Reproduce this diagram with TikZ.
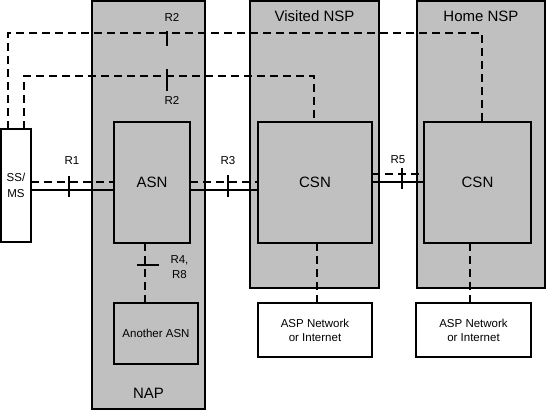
\documentclass[tikz,border=0pt]{standalone}
\usepackage{fontspec}
\setmainfont{Liberation Sans}
\definecolor{bg}{RGB}{192,192,192}
\begin{document}
\begin{tikzpicture}[x=1pt,y=-1pt,
  region/.style={draw, fill=bg, line width=1.6pt, inner sep=0pt, outer sep=0pt},
  whitebox/.style={draw, fill=white, line width=1.6pt, inner sep=0pt, outer sep=0pt, align=center, font=\fontsize{11.5}{14}\selectfont},
  bigtxt/.style={font=\fontsize{15}{18}\selectfont, inner sep=0pt},
  smalltxt/.style={font=\fontsize{11.5}{15}\selectfont, inner sep=0pt, align=center},
  conn/.style={line width=1.6pt},
  dline/.style={line width=1.6pt, dash pattern=on 8pt off 5pt},
  tick/.style={line width=1.6pt}
]
\useasboundingbox (0,0) rectangle (547,411);
% regions
\node[region, minimum width=113pt, minimum height=408pt] (nap) at (148.5,205) {};
\node[region, minimum width=129pt, minimum height=287pt] (vnsp) at (314.5,144.5) {};
\node[region, minimum width=128pt, minimum height=287pt] (hnsp) at (481,144.5) {};
\node[bigtxt] (vlab) at (314.5,16) {Visited NSP};
\node[bigtxt] (hlab) at (481,16) {Home NSP};
\node[bigtxt] (naplab) at (148.5,393) {NAP};
% helper coordinates
\coordinate (o1) at (8,33);
\coordinate (o2) at (482,33);
\coordinate (i1) at (24,76);
\coordinate (i2) at (314,76);
\coordinate (hA) at (0,190);
\coordinate (hB) at (0,182);
\coordinate (hC) at (0,174);
\coordinate (v1) at (145,0);
\coordinate (v2) at (317,0);
\coordinate (v3) at (470,0);
% inner boxes
\node[region, minimum width=76pt, minimum height=121pt, bigtxt] (asn) at (152,182.5) {ASN};
\node[region, minimum width=114pt, minimum height=121pt, bigtxt] (csnv) at (315,182.5) {CSN};
\node[region, minimum width=107pt, minimum height=121pt, bigtxt] (csnh) at (477.5,182.5) {CSN};
\node[region, minimum width=84pt, minimum height=61pt, font=\fontsize{11.5}{14}\selectfont] (asn2) at (156,333.5) {Another ASN};
\node[whitebox, minimum width=114pt, minimum height=54pt] (asp1) at (315,330) {ASP Network\\or Internet};
\node[whitebox, minimum width=115pt, minimum height=54pt] (asp2) at (473.5,330) {ASP Network\\or Internet};
\node[whitebox, minimum width=30pt, minimum height=113pt, font=\fontsize{11.5}{16}\selectfont] (ss) at (16,185.5) {SS/\\MS};
% top dashed R2 paths
\draw[dline] (ss.north -| o1) -- (o1) -- (o2) -- (csnh.north -| o2);
\draw[dline] (ss.north -| i1) -- (i1) -- (i2) -- (csnv.north -| i2);
% R1
\draw[conn] (ss.east |- hA) -- (asn.west |- hA);
\draw[dline] (ss.east |- hB) -- (asn.west |- hB);
% R3
\draw[conn] (asn.east |- hA) -- (csnv.west |- hA);
\draw[dline] (asn.east |- hB) -- (csnv.west |- hB);
% R5
\draw[conn] (csnv.east |- hB) -- (csnh.west |- hB);
\draw[dline] (csnv.east |- hC) -- (csnh.west |- hC);
% vertical dashed
\draw[dline] (asn.south -| v1) -- (asn2.north -| v1);
\draw[dline] (csnv.south -| v2) -- (asp1.north -| v2);
\draw[dline] (csnh.south -| v3) -- (asp2.north -| v3);
% ticks
\coordinate (t1a) at (69,176); \coordinate (t1b) at (69,197);
\coordinate (t3a) at (228,175); \coordinate (t3b) at (228,197);
\coordinate (t5a) at (402,168); \coordinate (t5b) at (402,189);
\coordinate (t2a) at (167,31); \coordinate (t2b) at (167,46);
\coordinate (t2c) at (167,69); \coordinate (t2d) at (167,91);
\coordinate (t4a) at (137,265); \coordinate (t4b) at (159,265);
\draw[tick] (t1a) -- (t1b);
\draw[tick] (t3a) -- (t3b);
\draw[tick] (t5a) -- (t5b);
\draw[tick] (t2a) -- (t2b);
\draw[tick] (t2c) -- (t2d);
\draw[tick] (t4a) -- (t4b);
% labels
\node[smalltxt] (lr2a) at (172,17) {R2};
\node[smalltxt] (lr2b) at (172,100) {R2};
\node[smalltxt] (lr1) at (72,161) {R1};
\node[smalltxt] (lr3) at (228,161) {R3};
\node[smalltxt] (lr5) at (398,160) {R5};
\node[smalltxt] (lr4) at (179.5,267.5) {R4,\\R8};
\end{tikzpicture}
\end{document}
